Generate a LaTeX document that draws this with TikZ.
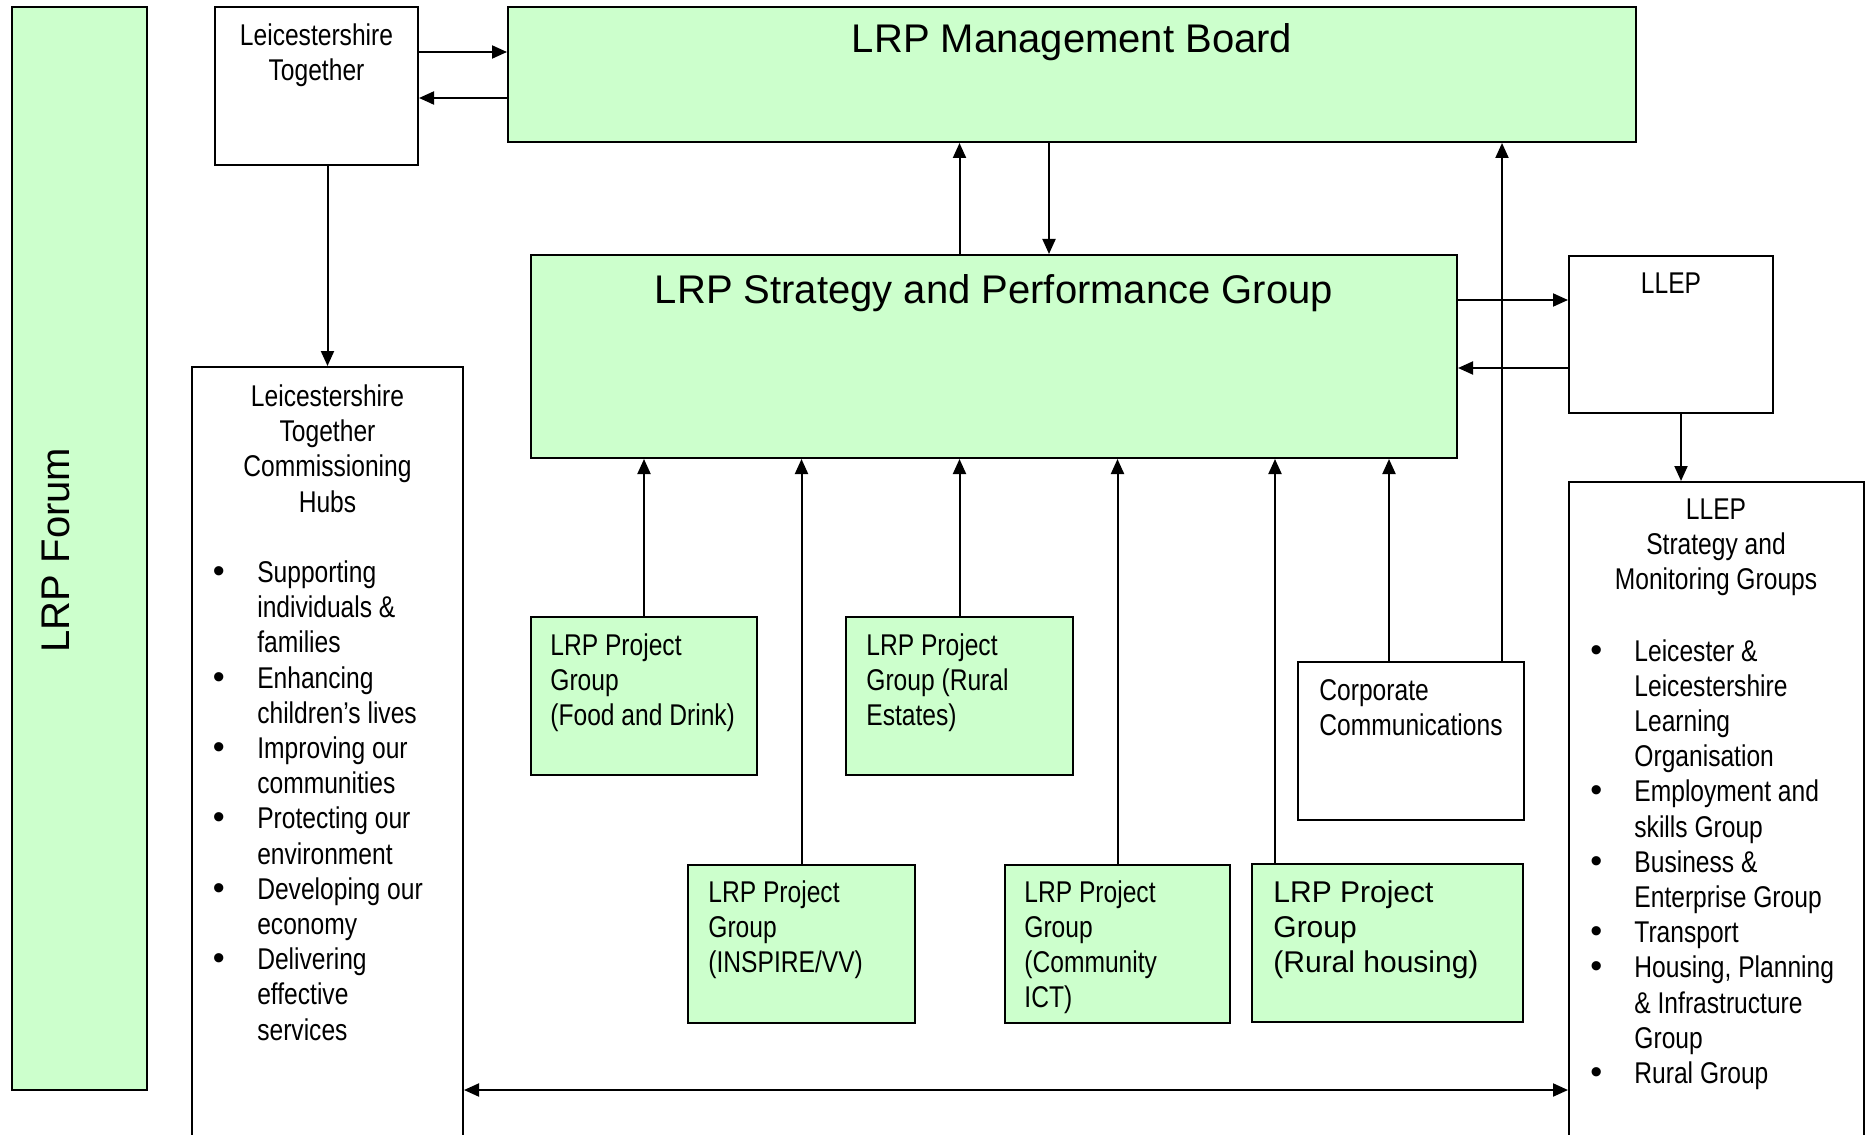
\documentclass[tikz,border=0pt]{standalone}
\usepackage{fontspec}
\setmainfont{Liberation Sans}
\newfontfamily\narrowfont[FakeStretch=0.82]{Liberation Sans}
\usetikzlibrary{fit,arrows.meta}
\definecolor{lgreen}{RGB}{204,255,204}
\tikzset{
  gbox/.style={draw, line width=1pt, fill=lgreen, inner sep=0pt},
  wbox/.style={draw, line width=1pt, fill=white, inner sep=0pt},
  ntxt/.style={inner sep=0pt, font=\narrowfont\fontsize{15}{17.6}\selectfont},
  rtxt/.style={inner sep=0pt, font=\fontsize{15}{17.6}\selectfont},
  ttl/.style={inner sep=0pt, font=\fontsize{20}{24}\selectfont},
  arr/.style={line width=1pt, -{Triangle[length=7.5pt,width=6.5pt]}},
  darr/.style={line width=1pt, {Triangle[length=7.5pt,width=6.5pt]}-{Triangle[length=7.5pt,width=6.5pt]}},
}
\newcommand{\bul}[1]{\makebox[#1][l]{{\normalfont\fontsize{17}{17.6}\selectfont\textbullet}}}
\begin{document}
\begin{tikzpicture}[x=0.5pt,y=-0.5pt]
\useasboundingbox (0,0) rectangle (1872,1134);
\fill[white] (0,0) rectangle (1872,1134);
\clip (0,0) rectangle (1872,1134);

% boxes
\node[gbox, fit={(12,7) (147,1090)}] (forum) {};
\node[wbox, fit={(215,7) (418,165)}] (lt) {};
\node[gbox, fit={(508,7) (1636,142)}] (mb) {};
\node[gbox, fit={(531,255) (1457,458)}] (spg) {};
\node[wbox, fit={(1569,256) (1773,413)}] (llep) {};
\node[wbox, fit={(192,367) (463,1150)}] (hubs) {};
\node[wbox, fit={(1569,482) (1864,1150)}] (smg) {};
\node[gbox, fit={(531,617) (757,775)}] (food) {};
\node[gbox, fit={(846,617) (1073,775)}] (re) {};
\node[gbox, fit={(688,865) (915,1023)}] (insp) {};
\node[gbox, fit={(1005,865) (1230,1023)}] (comm) {};
\node[gbox, fit={(1252,864) (1523,1022)}] (rh) {};
\node[wbox, fit={(1298,662) (1524,820)}] (corp) {};

% texts
\node[ttl, rotate=90, anchor=base] (forumt) at (69,550) {LRP Forum};
\node[ttl, anchor=base] (mbt) at (1072,53) {LRP Management Board};
\node[ttl, anchor=base] (spgt) at (994,303) {LRP Strategy and Performance Group};
\node[ntxt, anchor=north, align=center] (ltt) at (316.5,20.4) {\strut Leicestershire\\Together};
\node[ntxt, anchor=north, align=center] (hubst) at (327.5,381.4) {\strut Leicestershire\\Together\\Commissioning\\Hubs};
\node[ntxt, anchor=north west, align=left] (hubsl) at (212.5,557.4) {\strut\bul{22.2pt}Supporting\\
\hspace*{22.2pt}individuals \&\\
\hspace*{22.2pt}families\\
\bul{22.2pt}Enhancing\\
\hspace*{22.2pt}children’s lives\\
\bul{22.2pt}Improving our\\
\hspace*{22.2pt}communities\\
\bul{22.2pt}Protecting our\\
\hspace*{22.2pt}environment\\
\bul{22.2pt}Developing our\\
\hspace*{22.2pt}economy\\
\bul{22.2pt}Delivering\\
\hspace*{22.2pt}effective\\
\hspace*{22.2pt}services};
\node[ntxt, anchor=north] (llept) at (1671,268.4) {\strut LLEP};
\node[ntxt, anchor=north, align=center] (smgt) at (1716,494) {\strut LLEP\\Strategy and\\Monitoring Groups};
\node[ntxt, anchor=north west, align=left] (smgl) at (1590,636.1) {\strut\bul{22pt}Leicester \&\\
\hspace*{22pt}Leicestershire\\
\hspace*{22pt}Learning\\
\hspace*{22pt}Organisation\\
\bul{22pt}Employment and\\
\hspace*{22pt}skills Group\\
\bul{22pt}Business \&\\
\hspace*{22pt}Enterprise Group\\
\bul{22pt}Transport\\
\bul{22pt}Housing, Planning\\
\hspace*{22pt}\& Infrastructure\\
\hspace*{22pt}Group\\
\bul{22pt}Rural Group};
\node[ntxt, anchor=north west, align=left] (foodt) at (550,630.4) {\strut LRP Project\\Group\\(Food and Drink)};
\node[ntxt, anchor=north west, align=left] (ret) at (866,630.4) {\strut LRP Project\\Group (Rural\\Estates)};
\node[ntxt, anchor=north west, align=left] (inspt) at (708,877) {\strut LRP Project\\Group\\(INSPIRE/VV)};
\node[ntxt, anchor=north west, align=left] (commt) at (1024,877) {\strut LRP Project\\Group\\(Community\\ICT)};
\node[rtxt, anchor=north west, align=left] (rht) at (1273,877) {\strut LRP Project\\Group\\(Rural housing)};
\node[ntxt, anchor=north west, align=left] (corpt) at (1319,675.4) {\strut Corporate\\Communications};

% connectors
\draw[arr] (lt.east |- 0,52) -- (mb.west |- 0,52);
\draw[arr] (mb.west |- 0,98) -- (lt.east |- 0,98);
\draw[arr] (hubs.north |- lt.south) -- (hubs.north);
\draw[arr] (spg.north -| re.north) -- (mb.south -| re.north);
\draw[arr] (mb.south -| 1049,0) -- (spg.north -| 1049,0);
\draw[arr] (spg.east |- 0,300) -- (llep.west |- 0,300);
\draw[arr] (llep.west |- 0,368) -- (spg.east |- 0,368);
\draw[arr] (llep.south -| 1681,0) -- (smg.north -| 1681,0);
\draw[arr] (food.north) -- (spg.south -| food.north);
\draw[arr] (re.north) -- (spg.south -| re.north);
\draw[arr] (insp.north) -- (spg.south -| insp.north);
\draw[arr] (comm.north) -- (spg.south -| comm.north);
\draw[arr] (rh.north -| 1275,0) -- (spg.south -| 1275,0);
\draw[arr] (corp.north -| 1389,0) -- (spg.south -| 1389,0);
\draw[arr] (corp.north -| 1502,0) -- (mb.south -| 1502,0);
\draw[darr] (hubs.east |- 0,1090) -- (smg.west |- 0,1090);
\end{tikzpicture}
\end{document}
